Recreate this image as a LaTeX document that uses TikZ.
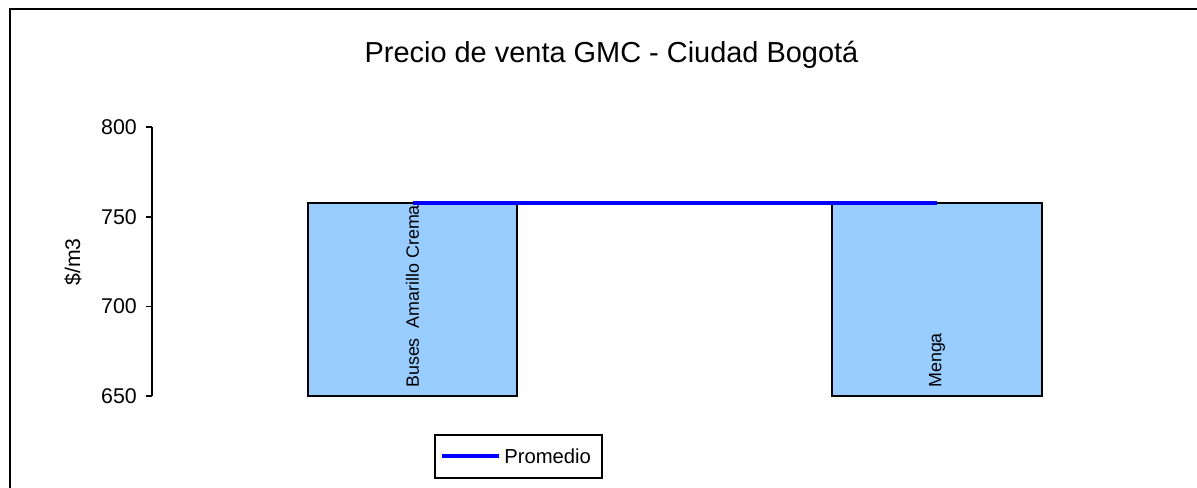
\documentclass[tikz,border=0pt]{standalone}
\usepackage{fontspec}
\setmainfont{Liberation Sans}
\usepackage{xcolor}
\usepackage{tikz}
\usetikzlibrary{positioning}

\definecolor{barblue}{HTML}{99CCFF}
\definecolor{avgblue}{HTML}{0000FF}

\tikzset{
    bar/.style={draw=black, line width=1.1pt, fill=barblue},
    avgline/.style={draw=avgblue, line width=2.6pt},
    ticklabel/.style={anchor=east, inner sep=0pt, font=\fontsize{16}{19}\selectfont},
    barlabel/.style={anchor=west, rotate=90, inner sep=0pt, font=\fontsize{13.4}{16}\selectfont}
}

\begin{document}
\begin{tikzpicture}[x=0.75pt, y=-0.75pt]
    \useasboundingbox (0,0) rectangle (1197,488);

    %% Frame
    \draw[line width=1.6pt] (10,488) -- (10,9) -- (1197,9);

    %% Title
    \node[anchor=base, font=\fontsize{21.7}{26}\selectfont] (title) at (611.5,63)
        {Precio de venta GMC - Ciudad Bogotá};

    %% Axis
    \draw[line width=1.1pt] (152,127) -- (152,396);
    \foreach \val/\ypos in {800/127, 750/217, 700/306.5, 650/396} {
        \draw[line width=1.1pt] (146,\ypos) -- (152,\ypos);
        \node[ticklabel] (tick\val) at (137,\ypos) {\val};
    }
    \node[rotate=90, font=\fontsize{15.9}{19}\selectfont] (ylabel) at (73,262) {\$/m3};

    %% Bars
    \draw[bar] (308,203) rectangle (517,396);
    \draw[bar] (832,203) rectangle (1042,396);
    \coordinate (buses) at (412.5,203);
    \coordinate (menga) at (937,203);
    \node[barlabel] (busestext) at (412.5,388) {Buses\ \ Amarillo Crema};
    \node[barlabel] (mengatext) at (937,388) {Menga};

    %% Promedio
    \draw[avgline] (buses) -- (menga);

    %% Legend
    \draw[line width=1.1pt] (435,435) rectangle (602,478);
    \coordinate (legstart) at (442,456);
    \coordinate (legend) at (499,456);
    \draw[avgline] (legstart) -- (legend);
    \node[anchor=west, inner sep=0pt, font=\fontsize{15.2}{18}\selectfont] (legtext)
        at (504,456) {Promedio};
\end{tikzpicture}
\end{document}
